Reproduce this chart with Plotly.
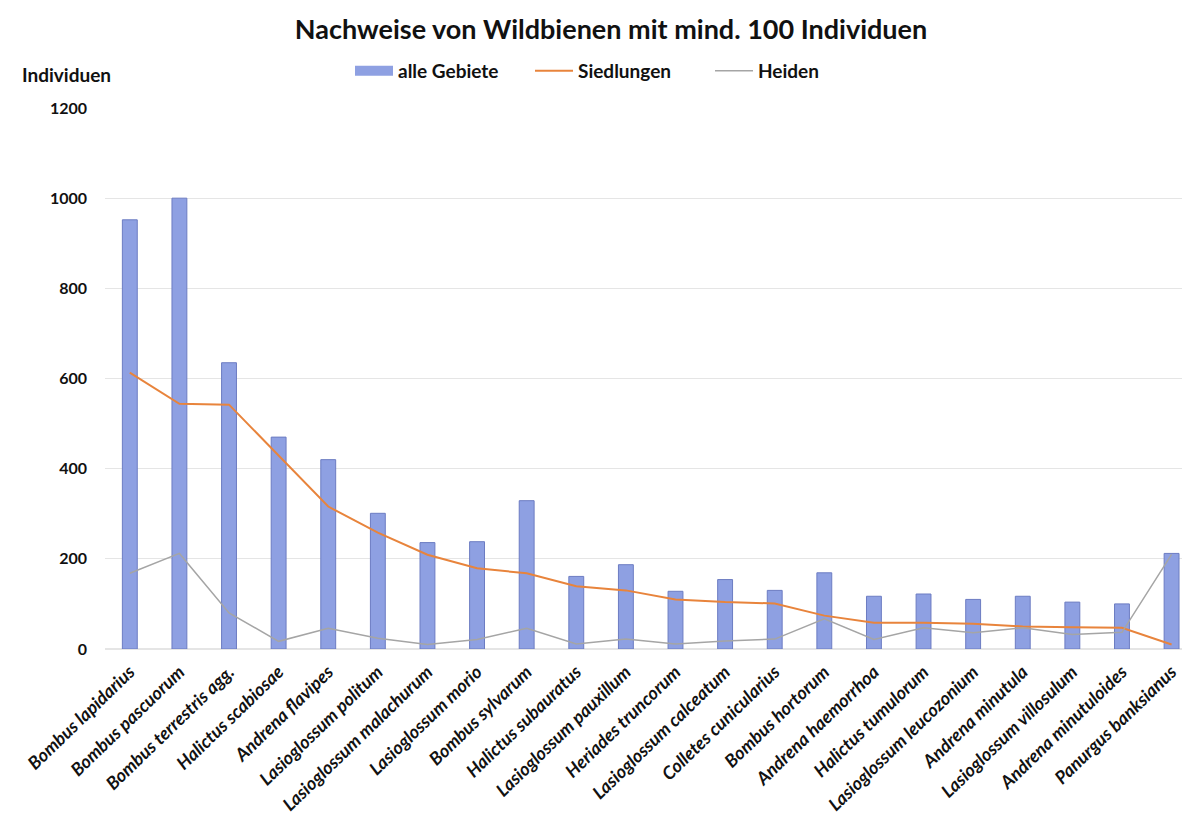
import plotly.graph_objects as go

species = [
    "Bombus lapidarius", "Bombus pascuorum", "Bombus terrestris agg.", "Halictus scabiosae",
    "Andrena flavipes", "Lasioglossum politum", "Lasioglossum malachurum", "Lasioglossum morio",
    "Bombus sylvarum", "Halictus subauratus", "Lasioglossum pauxillum", "Heriades truncorum",
    "Lasioglossum calceatum", "Colletes cunicularius", "Bombus hortorum", "Andrena haemorrhoa",
    "Halictus tumulorum", "Lasioglossum leucozonium", "Andrena minutula", "Lasioglossum villosulum",
    "Andrena minutuloides", "Panurgus banksianus",
]
alle_gebiete = [952, 1000, 635, 470, 420, 301, 236, 238, 329, 161, 187, 128,
                154, 130, 169, 117, 122, 110, 117, 104, 100, 212]
siedlungen = [613, 544, 542, 428, 316, 258, 209, 179, 168, 139, 130, 110,
              104, 101, 74, 58, 58, 56, 50, 48, 47, 10]
heiden = [168, 212, 80, 17, 46, 24, 10, 21, 46, 11, 22, 11,
          18, 22, 67, 21, 47, 36, 47, 32, 37, 210]
y_ticks = [0, 200, 400, 600, 800, 1000, 1200]

FONT = "Lato"
BAR_COLOR = "#8EA0E2"

fig = go.Figure()
fig.add_trace(go.Bar(
    x=species, y=alle_gebiete, name="alle Gebiete", width=0.3, showlegend=False,
    marker=dict(color=BAR_COLOR, line=dict(color="#6C7CC2", width=1)),
))
# legend entry drawn as a wide rectangle, like the reference
fig.add_trace(go.Scatter(
    x=[None], y=[None], name="alle Gebiete", mode="lines",
    line=dict(color=BAR_COLOR, width=10),
))
fig.add_trace(go.Scatter(
    x=species, y=siedlungen, name="Siedlungen", mode="lines",
    line=dict(color="#E8843C", width=2),
))
fig.add_trace(go.Scatter(
    x=species, y=heiden, name="Heiden", mode="lines",
    line=dict(color="#A5A5A5", width=1.5),
))

fig.update_layout(
    width=1188, height=819,
    margin=dict(l=105, r=6, t=108, b=170, autoexpand=False),
    paper_bgcolor="white", plot_bgcolor="white",
    font=dict(family=FONT, color="#111111"),
    title=dict(
        text="<b>Nachweise von Wildbienen mit mind. 100 Individuen</b>",
        x=611 / 1188, xanchor="center", y=1 - 30 / 819, yanchor="middle",
        font=dict(family=FONT, size=27, color="#111111"),
    ),
    legend=dict(
        orientation="h", x=350 / 1188, xanchor="left", xref="container",
        y=1 - 71 / 819, yanchor="middle", yref="container",
        font=dict(family=FONT, size=19, color="#111111", weight="bold"),
        entrywidth=127, entrywidthmode="pixels", itemwidth=38,
        bgcolor="rgba(0,0,0,0)",
    ),
    showlegend=True,
    annotations=[dict(
        text="<b>Individuen</b>", xref="paper", yref="paper",
        x=-0.036, y=1 + 33 / 541, xanchor="center", yanchor="middle",
        showarrow=False, font=dict(family=FONT, size=19, color="#111111"),
    )],
)
fig.update_xaxes(
    range=[-0.5, 21.21], tickangle=-44, showgrid=False, showline=False, ticks="",
    tickfont=dict(family=FONT, size=18, color="#111111", weight="bold", style="italic"),
    ticklabelstandoff=8,
)
fig.update_yaxes(
    range=[0, 1200], tickvals=y_ticks, showgrid=True, gridcolor="#E5E5E5", gridwidth=1,
    zeroline=True, zerolinecolor="#E5E5E5", showline=False, ticks="",
    tickfont=dict(family=FONT, size=16, color="#111111", weight="bold"),
    ticklabelstandoff=17,
)

fig.write_html("out.html", config={"displayModeBar": False},
               post_script="document.body.style.margin='0';")
